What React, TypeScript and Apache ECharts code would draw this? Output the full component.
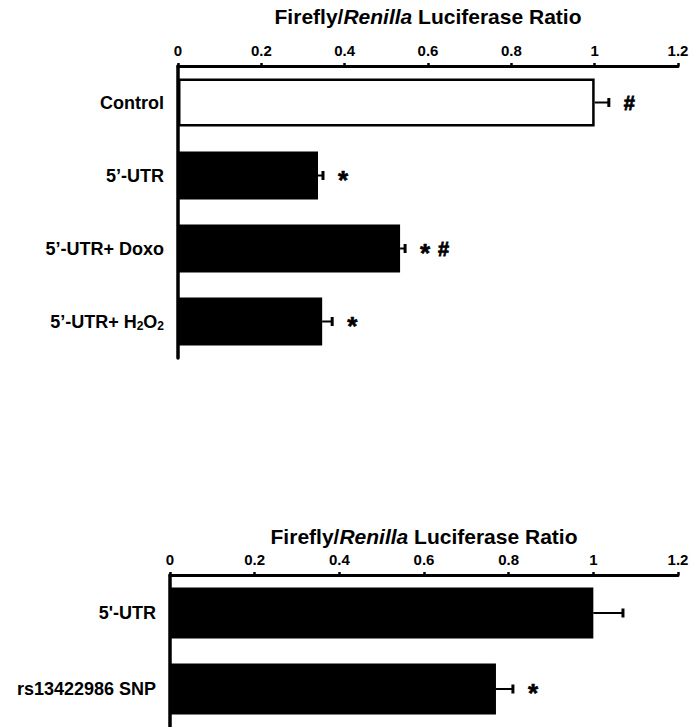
import React, { useEffect, useRef } from "react";
import * as echarts from "echarts";

const xTicksMin = 0;
const xTicksMax = 1.2;
const xTickStep = 0.2;

const topCategories = ["Control", "5’-UTR", "5’-UTR+ Doxo", "5’-UTR+ H2O2"];
const topValues = [1.0, 0.336, 0.533, 0.346];
const topErrors = [0.034, 0.012, 0.012, 0.024];
const topMarks = ["#", "*", "* #", "*"];

const bottomCategories = ["5'-UTR", "rs13422986 SNP"];
const bottomValues = [1.0, 0.77];
const bottomErrors = [0.07, 0.04];
const bottomMarks = ["", "*"];

const axisTitle = "Firefly/{i|Renilla} Luciferase Ratio";

const FONT = '"Liberation Sans", Arial, Helvetica, sans-serif';

function makeErrorRender(marks: string[]) {
  return (params: any, api: any) => {
    const v = api.value(0);
    const i = api.value(1);
    const e = api.value(2);
    const p0 = api.coord([v, i]);
    const p1 = api.coord([v + e, i]);
    const children: any[] = [
      {
        type: "line",
        shape: { x1: p0[0], y1: p0[1], x2: p1[0], y2: p1[1] },
        style: { stroke: "#000", lineWidth: 2 },
      },
      {
        type: "line",
        shape: { x1: p1[0], y1: p1[1] - 4.5, x2: p1[0], y2: p1[1] + 4.5 },
        style: { stroke: "#000", lineWidth: 3 },
      },
    ];
    const tokens = (marks[params.dataIndex] || "").split(" ").filter((t) => t);
    let x = p1[0] + 15;
    tokens.forEach((t) => {
      const isStar = t === "*";
      children.push({
        type: "text",
        x: x,
        y: p1[1] + (isStar ? 4 : 0),
        style: {
          text: t,
          fill: "#000",
          stroke: isStar ? "#000" : "#000",
          lineWidth: isStar ? 0.6 : 0.8,
          font: isStar ? `bold 26px ${FONT}` : `bold 20px ${FONT}`,
          align: "left",
          verticalAlign: "middle",
        },
      });
      x += 18;
    });
    return { type: "group", children };
  };
}

const labelFormatter = (v: string) => v.replace(/H2O2/, "H{sub|2}O{sub|2}");

function xAxisCfg(gridIndex: number, nameGap: number) {
  return {
    type: "value",
    gridIndex,
    position: "top",
    min: xTicksMin,
    max: xTicksMax,
    interval: xTickStep,
    name: axisTitle,
    nameLocation: "middle",
    nameGap,
    nameTextStyle: {
      fontSize: 21,
      fontWeight: "bold",
      fontFamily: FONT,
      color: "#000",
      rich: {
        i: { fontSize: 21, fontWeight: "bold", fontStyle: "italic", fontFamily: FONT, color: "#000" },
      },
    },
    axisLine: { show: true, lineStyle: { color: "#000", width: 3 } },
    axisTick: { show: true, length: 3, lineStyle: { color: "#000", width: 2.5 } },
    axisLabel: { fontSize: 15, fontWeight: "bold", fontFamily: FONT, color: "#000", margin: 8 },
    splitLine: { show: false },
  };
}

function yAxisCfg(gridIndex: number, data: string[]) {
  return {
    type: "category",
    gridIndex,
    data,
    inverse: true,
    axisLine: { show: true, lineStyle: { color: "#000", width: 3.5 } },
    axisTick: { show: false },
    axisLabel: {
      fontSize: 18,
      fontWeight: "bold",
      fontFamily: FONT,
      color: "#000",
      margin: 14,
      formatter: labelFormatter,
      rich: {
        sub: { fontSize: 12, fontWeight: "bold", fontFamily: FONT, color: "#000", padding: [9, 0, 0, 0] },
      },
    },
    splitLine: { show: false },
  };
}

export default function App() {
  const ref = useRef<HTMLDivElement>(null);
  useEffect(() => {
    if (!ref.current) return;
    const chart = echarts.init(ref.current, null, { renderer: "svg" });
    chart.setOption({
      animation: false,
      backgroundColor: "#fff",
      grid: [
        { left: 178, right: 15, top: 66, height: 292 },
        { left: 170, right: 15, top: 575, height: 155 },
      ],
      xAxis: [xAxisCfg(0, 39), xAxisCfg(1, 28)],
      yAxis: [yAxisCfg(0, topCategories), yAxisCfg(1, bottomCategories)],
      series: [
        {
          type: "bar",
          xAxisIndex: 0,
          yAxisIndex: 0,
          barWidth: 48,
          data: topValues.map((v, i) =>
            i === 0
              ? { value: v, itemStyle: { color: "#fff", borderColor: "#000", borderWidth: 2.5 } }
              : { value: v, itemStyle: { color: "#000" } }
          ),
        },
        {
          type: "custom",
          xAxisIndex: 0,
          yAxisIndex: 0,
          renderItem: makeErrorRender(topMarks),
          encode: { x: 0, y: 1 },
          data: topValues.map((v, i) => [v, i, topErrors[i]]),
          z: 5,
        },
        {
          type: "bar",
          xAxisIndex: 1,
          yAxisIndex: 1,
          barWidth: 51,
          itemStyle: { color: "#000" },
          data: bottomValues,
        },
        {
          type: "custom",
          xAxisIndex: 1,
          yAxisIndex: 1,
          renderItem: makeErrorRender(bottomMarks),
          encode: { x: 0, y: 1 },
          data: bottomValues.map((v, i) => [v, i, bottomErrors[i]]),
          z: 5,
        },
      ],
    });
    return () => chart.dispose();
  }, []);
  return (
    <div
      ref={ref}
      style={{ position: "fixed", left: 0, top: 0, width: 693, height: 727, background: "#fff" }}
    />
  );
}
